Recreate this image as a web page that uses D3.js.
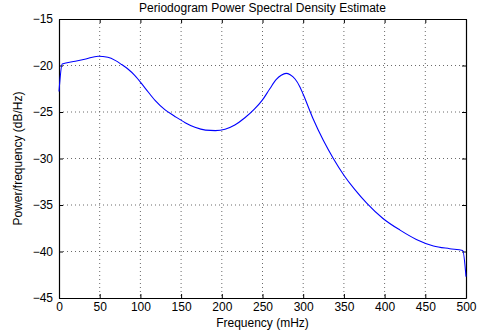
<!DOCTYPE html>
<html>
<head>
<meta charset="utf-8">
<script src="https://cdn.jsdelivr.net/npm/d3@7"></script>
<style>
  body { margin: 0; background: #fff; }
  text { font-family: "Liberation Sans", Arial, sans-serif; fill: #000; }
</style>
</head>
<body>
<svg id="chart" width="477" height="334"></svg>
<script>
// frequency in mHz, periodogram PSD estimate in dB/Hz
const freq = [0, 3.9, 20, 33, 48, 60, 69, 77, 85, 93, 106, 118, 130, 142, 155, 167, 180, 192, 204, 216,
  228, 240, 250, 259, 267, 273, 279, 284, 290, 296, 300, 312, 325, 337, 350, 363, 378, 398, 419, 439,
  460, 480, 496, 500];
const psd = [-22.8, -19.85, -19.55, -19.3, -19.0, -19.12, -19.45, -19.9, -20.4, -21.05, -22.45, -23.75,
  -24.75, -25.45, -26.15, -26.65, -26.95, -27.0, -26.85, -26.4, -25.65, -24.7, -23.7, -22.5, -21.5, -21.05,
  -20.85, -21.0, -21.45, -22.3, -23.1, -25.7, -28.1, -30.0, -31.8, -33.3, -34.8, -36.45, -37.7, -38.7,
  -39.4, -39.7, -39.9, -42.7];
const xTicks = [0, 50, 100, 150, 200, 250, 300, 350, 400, 450, 500];
const yTicks = [-45, -40, -35, -30, -25, -20, -15];

const margin = { left: 59, right: 11, top: 19, bottom: 36 };
const width = 477 - margin.left - margin.right;
const height = 334 - margin.top - margin.bottom;
const fontSize = 12;

const svg = d3.select("#chart");
const g = svg.append("g").attr("transform", "translate(" + margin.left + "," + margin.top + ")");

const x = d3.scaleLinear().domain([0, 500]).range([0, width]);
const y = d3.scaleLinear().domain([-45, -15]).range([height, 0]);

// grid
g.append("g").selectAll("line").data(xTicks.slice(1, -1)).enter().append("line")
  .attr("x1", d => x(d)).attr("x2", d => x(d)).attr("y1", 0).attr("y2", height)
  .attr("stroke", "#444").attr("stroke-width", 0.8).attr("stroke-dasharray", "1,3");
g.append("g").selectAll("line").data(yTicks.slice(1, -1)).enter().append("line")
  .attr("y1", d => y(d)).attr("y2", d => y(d)).attr("x1", 0).attr("x2", width)
  .attr("stroke", "#444").attr("stroke-width", 0.8).attr("stroke-dasharray", "1,3");

// axes (ticks inward, box on)
const tickLen = 4;
g.append("g").attr("transform", "translate(0," + height + ")")
  .call(d3.axisBottom(x).tickValues(xTicks).tickSizeInner(-tickLen).tickSizeOuter(0).tickPadding(4));
g.append("g")
  .call(d3.axisLeft(y).tickValues(yTicks).tickSizeInner(-tickLen).tickSizeOuter(0).tickPadding(6)
    .tickFormat(d => d3.format("d")(d).replace("-", "\u2212")));
g.append("g").call(d3.axisTop(x).tickValues(xTicks).tickSizeInner(-tickLen).tickSizeOuter(0).tickFormat(""));
g.append("g").attr("transform", "translate(" + width + ",0)")
  .call(d3.axisRight(y).tickValues(yTicks).tickSizeInner(-tickLen).tickSizeOuter(0).tickFormat(""));

g.selectAll(".domain").attr("stroke", "#000").attr("stroke-width", 1.2);
g.selectAll(".tick line").attr("stroke", "#000");
g.selectAll(".tick text").attr("font-size", fontSize).style("font-family", "Liberation Sans, Arial, sans-serif");

// curve
const line = d3.line()
  .x((d, i) => x(freq[i]))
  .y(d => y(d))
  .curve(d3.curveMonotoneX);
g.append("path").datum(psd)
  .attr("d", line)
  .attr("fill", "none")
  .attr("stroke", "#0000ff")
  .attr("stroke-width", 1.1);

// labels
svg.append("text").attr("x", margin.left + width / 2).attr("y", 12)
  .attr("text-anchor", "middle").attr("font-size", fontSize)
  .text("Periodogram Power Spectral Density Estimate");
svg.append("text").attr("x", margin.left + width / 2).attr("y", 327)
  .attr("text-anchor", "middle").attr("font-size", fontSize)
  .text("Frequency (mHz)");
svg.append("text")
  .attr("transform", "translate(22," + (margin.top + height / 2) + ") rotate(-90)")
  .attr("text-anchor", "middle").attr("font-size", fontSize)
  .text("Power/frequency (dB/Hz)");
</script>
</body>
</html>
